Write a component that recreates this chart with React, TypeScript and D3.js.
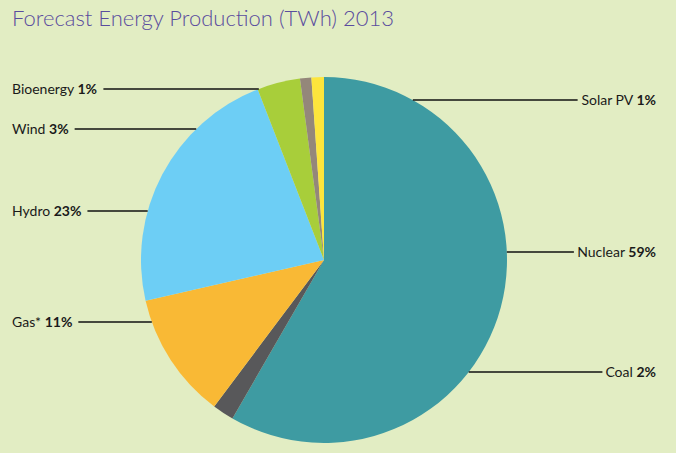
import * as d3 from 'd3';
import React, { useMemo } from 'react';

const WIDTH = 676;
const HEIGHT = 453;
const CENTER = { x: 324, y: 260 };
const RADIUS = 183;
const FONT = 'Lato, "DejaVu Sans", sans-serif';

const sources = ['Nuclear', 'Coal', 'Gas*', 'Hydro', 'Wind', 'Bioenergy', 'Solar PV'];
// slice sizes
const shares = [58.4, 1.9, 11.2, 22.7, 3.8, 1.0, 1.1];
// percentages printed in the callouts
const shareLabels = ['59%', '2%', '11%', '23%', '3%', '1%', '1%'];
const colors = ['#3e9ba2', '#58585a', '#f9b935', '#6dcef5', '#a8ce3a', '#94877a', '#fde53c'];

// label layout: side and vertical position of each callout
const labelSide = { Nuclear: 'right', Coal: 'right', 'Gas*': 'left', Hydro: 'left', Wind: 'left', Bioenergy: 'left', 'Solar PV': 'right' };
const labelY = { Nuclear: 252, Coal: 372, 'Gas*': 322, Hydro: 211, Wind: 129, Bioenergy: 89, 'Solar PV': 100 };

function measure(text: string, weight: string, size: number) {
  const ctx = document.createElement('canvas').getContext('2d');
  if (!ctx) return text.length * size * 0.55;
  ctx.font = `${weight} ${size}px ${FONT}`;
  return ctx.measureText(text).width;
}

type Slice = { name: string; value: number; label: string; color: string };

export default function App() {
  const data: Slice[] = sources.map((name, i) => ({ name, value: shares[i], label: shareLabels[i], color: colors[i] }));

  const arcs = useMemo(
    () =>
      d3
        .pie<Slice>()
        .sort(null)
        .value(d => d.value)(data),
    []
  );
  const arcGen = d3.arc<d3.PieArcDatum<Slice>>().innerRadius(0).outerRadius(RADIUS);

  const fontSize = 14;

  const labels = data.map(d => {
    const side = labelSide[d.name];
    const y = labelY[d.name];
    const dy = y - CENTER.y;
    const half = Math.sqrt(Math.max(0, RADIUS * RADIUS - dy * dy));
    const name = `${d.name} `;
    const w = measure(name, '400', fontSize) + measure(d.label, '700', fontSize);
    let x1, x2, tx, anchor;
    if (side === 'left') {
      tx = 12;
      anchor = 'start';
      x1 = tx + w + 6;
      x2 = CENTER.x - half;
    } else {
      tx = 656;
      anchor = 'end';
      x1 = CENTER.x + half;
      x2 = tx - w - 3;
    }
    return (
      <g key={d.name}>
        <line x1={x1} x2={x2} y1={y} y2={y} stroke="#111" strokeWidth={1.5} />
        <text x={tx} y={y} dy="0.35em" textAnchor={anchor} fontSize={fontSize} fontFamily={FONT} fill="#1a1a1a">
          <tspan>{name}</tspan>
          <tspan fontWeight={700}>{d.label}</tspan>
        </text>
      </g>
    );
  });

  return (
    <svg width={WIDTH} height={HEIGHT} style={{ position: 'absolute', left: 0, top: 0, background: '#e2edc3' }}>
      <rect width={WIDTH} height={HEIGHT} fill="#e2edc3" />
      <text x={12} y={26} fontSize={22} fontWeight={300} fontFamily={FONT} fill="#5a4c9e">
        Forecast Energy Production (TWh) 2013
      </text>
      <g transform={`translate(${CENTER.x},${CENTER.y})`}>
        {arcs.map(a => (
          <path key={a.data.name} d={arcGen(a) || ''} fill={a.data.color} />
        ))}
      </g>
      {labels}
    </svg>
  );
}
